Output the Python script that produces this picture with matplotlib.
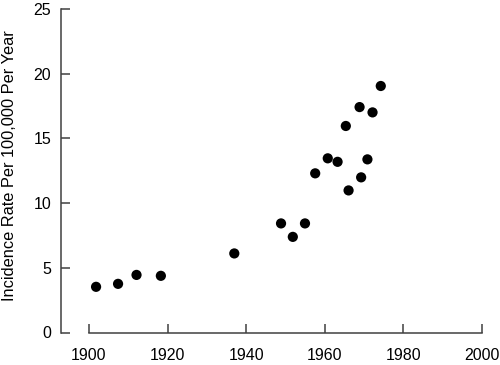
import matplotlib
matplotlib.use("Agg")
import matplotlib.pyplot as plt

years = [1901.8, 1907.4, 1912.1, 1918.3, 1937.0, 1948.9, 1951.9, 1955.0, 1957.6,
         1960.8, 1963.3, 1965.4, 1966.1, 1968.9, 1969.3, 1970.9, 1972.2, 1974.3]
rates = [3.53, 3.76, 4.45, 4.38, 6.11, 8.43, 7.39, 8.43, 12.30,
         13.46, 13.19, 15.96, 10.98, 17.42, 11.99, 13.38, 17.01, 19.05]
xticks = [1900, 1920, 1940, 1960, 1980, 2000]
yticks = [0, 5, 10, 15, 20, 25]
ylabel = "Incidence Rate Per 100,000 Per Year"

plt.rcParams['font.family'] = ['Liberation Sans', 'DejaVu Sans']

W, H = 500, 365
fig = plt.figure(figsize=(W / 100, H / 100), dpi=100)
left, right, bottom, top = 61, 481.7, 332.5, 9
ax = fig.add_axes([left / W, (H - bottom) / H, (right - left) / W, (bottom - top) / H])

ax.scatter(years, rates, s=54, color='black', edgecolors='none', zorder=3, clip_on=False)

ax.set_xlim(1900 - 28 / 3.927, 2000)
ax.set_ylim(0, 25)
ax.set_xticks(xticks)
ax.set_yticks(yticks)
for s in ['top', 'right']:
    ax.spines[s].set_visible(False)
axcol = '#404040'
for s in ['left', 'bottom']:
    ax.spines[s].set_color(axcol)
    ax.spines[s].set_linewidth(1.1)
ax.spines['bottom'].set_bounds(xticks[0], xticks[-1])
ax.spines['left'].set_bounds(yticks[0], yticks[-1])
ax.tick_params(axis='both', direction='in', length=6.5, width=1.1, color=axcol,
               labelsize=11.5, labelcolor='black')
ax.tick_params(axis='y', pad=7)
ax.tick_params(axis='x', pad=11)
fig.text(10 / W, 1 - 166 / H, ylabel, rotation=90, ha='center', va='center', fontsize=11.8)

fig.savefig("out.png", dpi=100)
